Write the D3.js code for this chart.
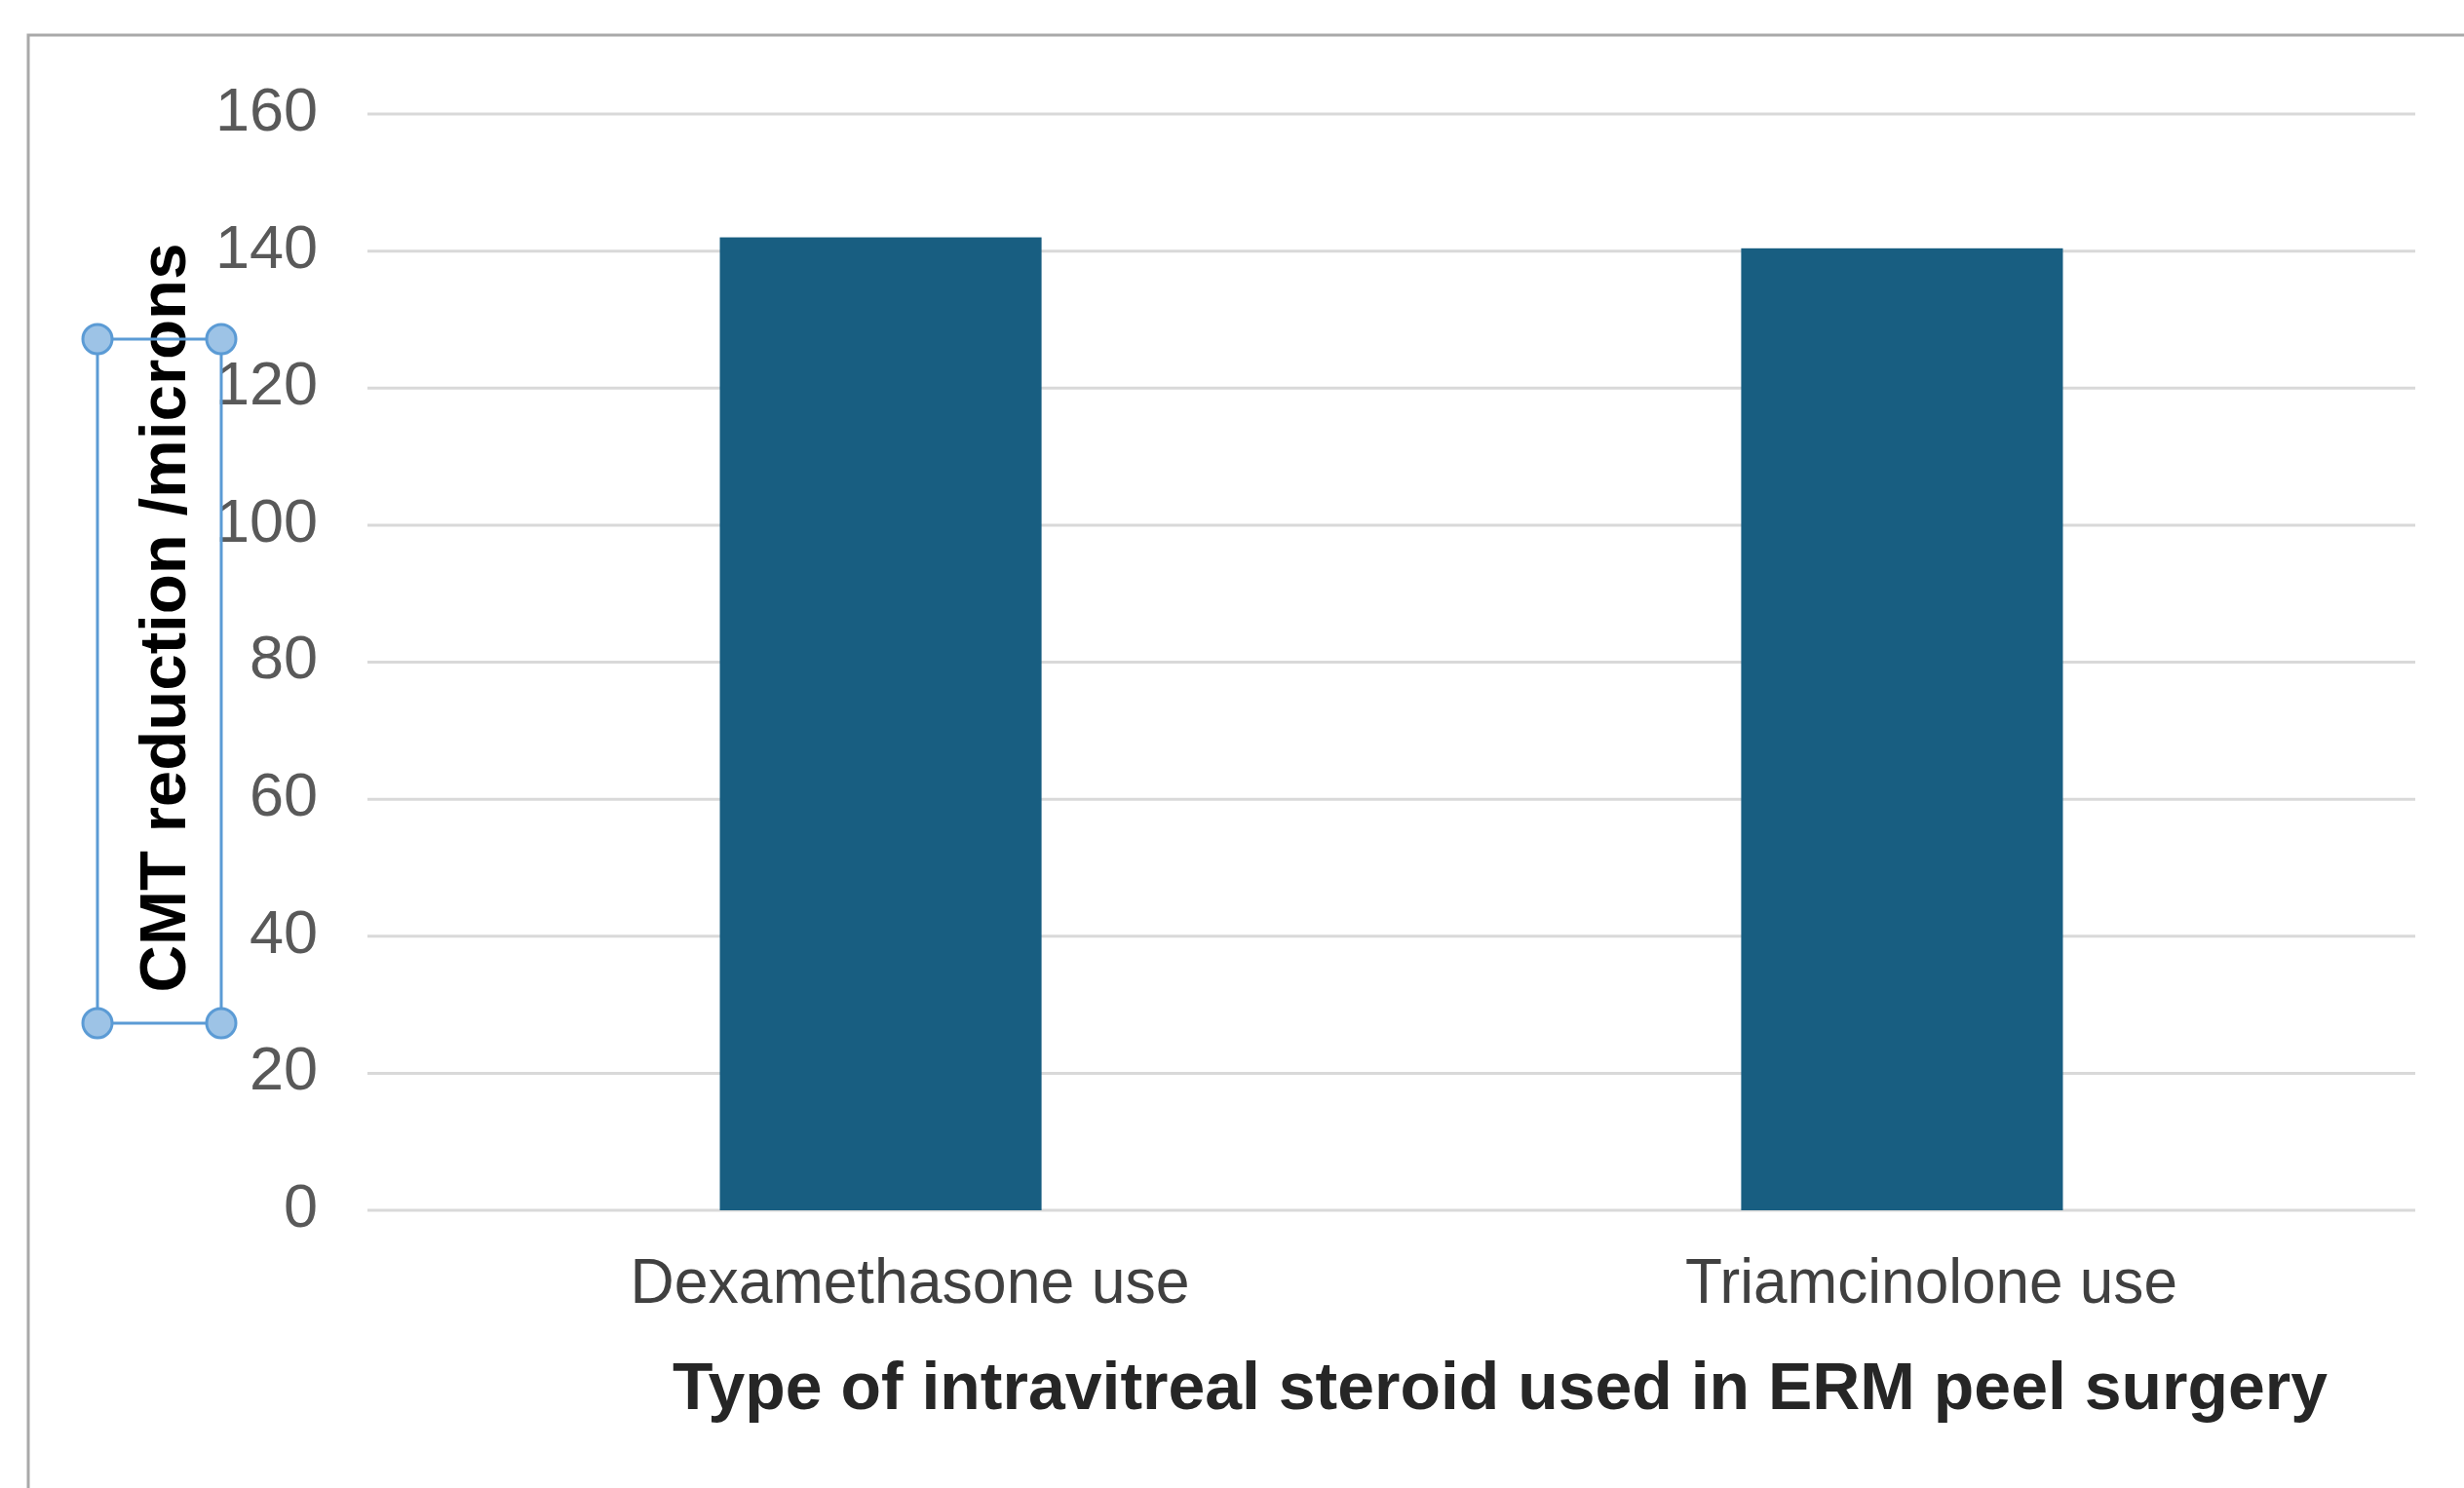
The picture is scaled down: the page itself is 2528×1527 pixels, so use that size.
<!DOCTYPE html>
<html>
<head>
<meta charset="utf-8">
<script src="https://cdn.jsdelivr.net/npm/d3@7"></script>
<style>
  html, body { margin: 0; padding: 0; background: #ffffff; }
  svg { display: block; }
</style>
</head>
<body>
<svg id="chart" width="2528" height="1527"></svg>
<script>
// ---- data ----
const categories = ["Dexamethasone use", "Triamcinolone use"];
const values = [142, 140.4];
const yTicks = [0, 20, 40, 60, 80, 100, 120, 140, 160];
const xTitle = "Type of intravitreal steroid used in ERM peel surgery";
const yTitle = "CMT reduction /microns";

// ---- layout ----
const W = 2528, H = 1527;
const plot = { left: 377, right: 2478, top: 117, bottom: 1242 };
const labelWidths = { "Dexamethasone use": 574, "Triamcinolone use": 505 };

const svg = d3.select("#chart");

// outer frame (chart area border, right/bottom cropped off)
svg.append("path")
  .attr("d", `M29,${H + 10} L29,36 L${W + 10},36`)
  .attr("fill", "none")
  .attr("stroke", "#a9a9a9")
  .attr("stroke-width", 3);

const x = d3.scaleBand()
  .domain(categories)
  .range([plot.left, plot.right])
  .paddingInner(0.685)
  .paddingOuter(0.345);

const y = d3.scaleLinear()
  .domain([0, 160])
  .range([plot.bottom, plot.top]);

// gridlines
svg.append("g")
  .selectAll("line")
  .data(yTicks)
  .join("line")
  .attr("x1", plot.left)
  .attr("x2", plot.right)
  .attr("y1", d => y(d))
  .attr("y2", d => y(d))
  .attr("stroke", "#d9d9d9")
  .attr("stroke-width", 3);

// y axis labels via d3 axis
const yAxis = d3.axisLeft(y).tickValues(yTicks).tickSize(0).tickPadding(0);
const gy = svg.append("g")
  .attr("transform", `translate(326,0)`)
  .call(yAxis);
gy.select(".domain").remove();
gy.selectAll("text")
  .attr("font-family", "'Liberation Sans', Arial, sans-serif")
  .attr("font-size", 63)
  .attr("fill", "#595959")
  .attr("dy", "0.26em");

// bars
svg.append("g")
  .selectAll("rect")
  .data(categories.map((c, i) => ({ c, v: values[i] })))
  .join("rect")
  .attr("x", d => x(d.c))
  .attr("width", x.bandwidth())
  .attr("y", d => y(d.v))
  .attr("height", d => y(0) - y(d.v))
  .attr("fill", "#185e81");

// x axis category labels
const xAxis = d3.axisBottom(x).tickSize(0).tickPadding(0);
const gx = svg.append("g")
  .attr("transform", `translate(30,0)`)
  .call(xAxis);
gx.select(".domain").remove();
gx.selectAll("text")
  .attr("y", 1337)
  .attr("dy", null)
  .attr("font-family", "'Liberation Sans', Arial, sans-serif")
  .attr("font-size", 65)
  .attr("fill", "#404040")
  .attr("text-anchor", "middle")
  .attr("textLength", d => labelWidths[d])
  .attr("lengthAdjust", "spacingAndGlyphs");

// x title
svg.append("text")
  .attr("x", 1539)
  .attr("y", 1446)
  .attr("text-anchor", "middle")
  .attr("font-family", "'Liberation Sans', Arial, sans-serif")
  .attr("font-weight", "bold")
  .attr("font-size", 69)
  .attr("fill", "#262626")
  .attr("textLength", 1698)
  .attr("lengthAdjust", "spacingAndGlyphs")
  .text(xTitle);

// y title
svg.append("text")
  .attr("transform", "translate(190,634) rotate(-90)")
  .attr("text-anchor", "middle")
  .attr("font-family", "'Liberation Sans', Arial, sans-serif")
  .attr("font-weight", "bold")
  .attr("font-size", 67)
  .attr("fill", "#000000")
  .attr("textLength", 769)
  .attr("lengthAdjust", "spacingAndGlyphs")
  .text(yTitle);

// selection box around the y title (editing handles in the screenshot)
const sel = { x0: 100, x1: 227, y0: 348, y1: 1050 };
svg.append("rect")
  .attr("x", sel.x0)
  .attr("y", sel.y0)
  .attr("width", sel.x1 - sel.x0)
  .attr("height", sel.y1 - sel.y0)
  .attr("fill", "none")
  .attr("stroke", "#5b9bd5")
  .attr("stroke-width", 3);
svg.append("g")
  .selectAll("circle")
  .data([[sel.x0, sel.y0], [sel.x1, sel.y0], [sel.x0, sel.y1], [sel.x1, sel.y1]])
  .join("circle")
  .attr("cx", d => d[0])
  .attr("cy", d => d[1])
  .attr("r", 15)
  .attr("fill", "#9dc3e6")
  .attr("stroke", "#5b9bd5")
  .attr("stroke-width", 3);
</script>
</body>
</html>
